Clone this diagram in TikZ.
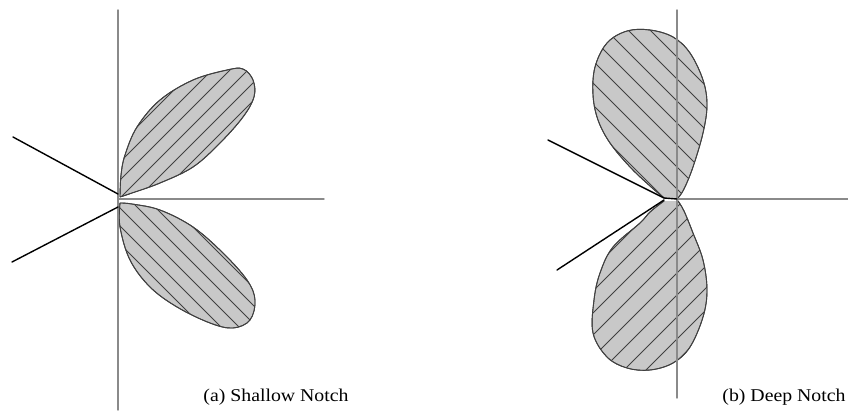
\documentclass[tikz,border=0pt]{standalone}
\usepackage{fontspec}
\setmainfont{Liberation Serif}
\definecolor{LobeGray}{HTML}{C8C8C8}
\definecolor{EdgeGray}{HTML}{404040}
\definecolor{AxisGray}{HTML}{8A8A8A}

\newcommand{\lobeShallowUp}{plot[smooth,tension=0.6] coordinates {(120,197) (121,175) (125,155) (137,127) (160,100) (193,80) (227,70) (243,69) (253,80) (254,97) (243,117) (220,143) (193,167) (160,183) (132,193) (120,197)}}
\newcommand{\lobeShallowDown}{plot[smooth,tension=0.6] coordinates {(120,203) (120,227) (130,260) (150,287) (177,307) (210,323) (233,328) (250,320) (255,300) (247,280) (223,253) (193,227) (160,210) (132,204) (120,203)}}
\newcommand{\lobeDeepUp}{plot[smooth,tension=0.6] coordinates {(664,198) (650,186) (630,167) (610,143) (598,120) (593,95) (595,67) (607,43) (627,31) (650,30) (673,37) (690,53) (703,80) (707,105) (703,133) (693,167) (684,189) (678,198)}}
\newcommand{\lobeDeepDown}{plot[smooth,tension=0.6] coordinates {(664,201) (650,212) (640,223) (613,247) (600,273) (594,300) (593,333) (607,357) (627,368) (650,370) (673,363) (690,347) (703,317) (707,290) (703,260) (693,233) (684,211) (678,201)}}

\begin{document}
\begin{tikzpicture}[x=1pt,y=-1pt,line cap=round,line join=round,
  lobe/.style={fill=LobeGray,draw=EdgeGray,line width=0.9pt},
  hatch/.style={draw=EdgeGray,line width=0.9pt},
  axis/.style={draw=AxisGray,line width=1.4pt},
  notch/.style={draw=black,line width=1.4pt},
  caption/.style={font=\fontsize{18}{20}\selectfont,inner sep=0pt}]
  \useasboundingbox (0,0) rectangle (848,412);
  % (a) shallow notch
  \filldraw[lobe] \lobeShallowUp;
  \filldraw[lobe] \lobeShallowDown;
  \begin{scope}
    \clip \lobeShallowUp;
    \foreach \s in {264,282,...,354} \draw[hatch] (\s-250,250) -- (\s,0);
  \end{scope}
  \begin{scope}
    \clip \lobeShallowDown;
    \foreach \s in {-124,-106,...,-30} \draw[hatch] (\s+100,100) -- (\s+350,350);
  \end{scope}
  \draw[lobe,fill=none] \lobeShallowUp;
  \draw[lobe,fill=none] \lobeShallowDown;
  \coordinate (oa) at (118,199);
  \draw[axis] (118,10) -- (118,410);
  \draw[axis] (oa) -- (324,199);
  \draw[notch] (13,137) -- (118,194);
  \draw[notch] (12,262) -- (118,207);
  \node[caption] (capa) at (276,397) {\scalebox{1.1}[1]{(a) Shallow Notch}};
  % (b) deep notch
  \filldraw[lobe] \lobeDeepUp;
  \filldraw[lobe] \lobeDeepDown;
  \begin{scope}
    \clip \lobeDeepUp;
    \foreach \s in {466,488,...,640} \draw[hatch] (\s+0,0) -- (\s+250,250);
  \end{scope}
  \begin{scope}
    \clip \lobeDeepDown;
    \foreach \s in {862,884,...,1040} \draw[hatch] (\s-450,450) -- (\s-150,150);
  \end{scope}
  \draw[lobe,fill=none] \lobeDeepUp;
  \draw[lobe,fill=none] \lobeDeepDown;
  \coordinate (ob) at (677,199);
  \draw[axis] (677,10) -- (677,398);
  \draw[axis] (ob) -- (848,199);
  \draw[notch] (548,140) -- (664,198) -- (677,199);
  \draw[notch] (557,270) -- (664,200);
  \node[caption] (capb) at (784,397) {\scalebox{1.1}[1]{(b) Deep Notch}};
\end{tikzpicture}
\end{document}
